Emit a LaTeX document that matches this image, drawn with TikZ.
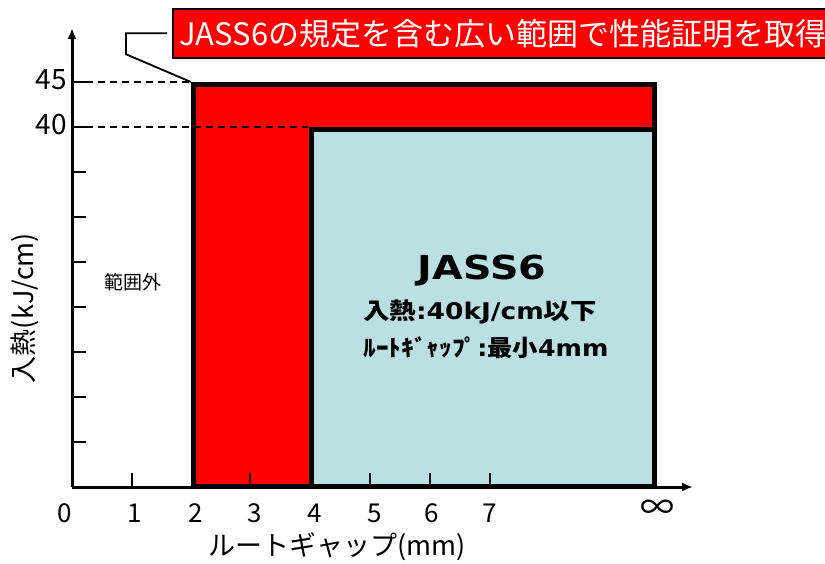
\documentclass[tikz,border=0pt]{standalone}
\usepackage{fontspec}
\setmainfont{Noto Sans CJK JP}
\newfontfamily\latb{DejaVu Sans Bold}
\usetikzlibrary{arrows.meta}
\definecolor{boxred}{RGB}{255,0,0}
\definecolor{jassblue}{RGB}{187,224,227}
\begin{document}
\begin{tikzpicture}[x=1pt,y=-1pt,
  axis/.style={line width=3pt,-{Latex[length=11pt,width=9pt]}},
  tickmark/.style={line width=2.2pt},
  guide/.style={line width=1.6pt,dash pattern=on 7pt off 5pt},
  region/.style={line width=5pt,line join=miter},
  lbl/.style={inner sep=0pt,text=black},
  num/.style={lbl,font=\fontsize{26}{30}\selectfont},
  ynum/.style={lbl,font=\fontsize{28}{30}\selectfont},
  title/.style={lbl,font=\fontsize{27}{30}\selectfont},
  claimbox/.style={fill=boxred,draw=black,line width=1.5pt,text=white,
    font=\fontsize{31}{34}\selectfont,minimum width=660pt,minimum height=49pt,inner sep=0pt},
  leader/.style={line width=1.8pt},
]
\useasboundingbox (0,0) rectangle (825,563);
% axes
\coordinate (O) at (72,487);
\coordinate (ytop) at (72,28);
\coordinate (xend) at (693,487);
% regions
\draw[region,fill=boxred] (193,84.5) rectangle (654,486);
\draw[region,fill=jassblue] (311,129) rectangle (654,486);
\coordinate (wideNW) at (191,82);
\draw[axis] (O) -- (ytop);
\draw[axis] (O) -- (xend);
% ticks
\foreach \y in {82,127,172,217,262,307,352,397,442}
  \draw[tickmark] (72,\y) -- (86,\y);
\foreach \x in {132,250,370,430,490}
  \draw[tickmark] (\x,487) -- (\x,473);
% guides
\draw[guide] (86,82) -- (190,82);
\draw[guide] (86,127) -- (308,127);
% y labels
\node[ynum,anchor=east] (y45) at (67,80) {45};
\node[ynum,anchor=east] (y40) at (67,125) {40};
% x labels
\node[num] (x0) at (65,513) {0};
\node[num] (x1) at (135,513) {1};
\node[num] (x2) at (196,513) {2};
\node[num] (x3) at (255,513) {3};
\node[num] (x4) at (315,513) {4};
\node[num] (x5) at (375,513) {5};
\node[num] (x6) at (432,513) {6};
\node[num] (x7) at (490,513) {7};
\node[lbl,font=\fontsize{34}{34}\selectfont] (xinf) at (657,510) {∞};
% titles
\node[title] (xtitle) at (337,547) {ルートギャップ(mm)};
\node[title,rotate=90] (ytitle) at (25,308) {入熱(kJ/cm)};
\node[lbl,font=\fontsize{19}{22}\selectfont] (outside) at (133,282) {範囲外};
% JASS6 text
\node[lbl,font=\fontsize{33}{36}\latb] (jass) at (482,271) {\scalebox{1.2}[1]{JASS6}};
\node[lbl,font=\fontsize{23}{26}\selectfont\bfseries] (heat) at (480,312)
  {\scalebox{1.15}[1]{入熱{\latb :40kJ/cm}以下}};
\node[lbl,font=\fontsize{23}{26}\selectfont\bfseries] (gap) at (486,348)
  {\scalebox{1.1}[1]{ﾙｰﾄｷﾞｬｯﾌﾟ{\latb :}最小{\latb 4mm}}};
% callout
\node[claimbox,anchor=north west] (claim) at (172,8) {JASS6の規定を含む広い範囲で性能証明を取得};
\draw[leader] ([xshift=-5pt]claim.west) -- ++(-41,0) -- ++(0,21) -- (wideNW);
\end{tikzpicture}
\end{document}
